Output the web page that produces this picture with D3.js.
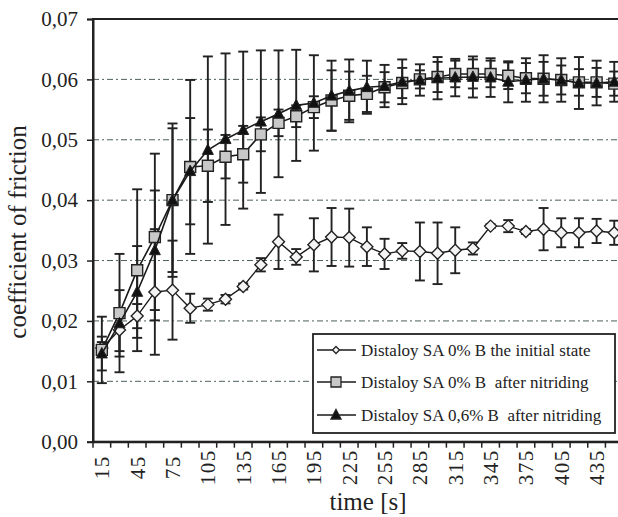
<!DOCTYPE html>
<html>
<head>
<meta charset="utf-8">
<script src="https://cdn.jsdelivr.net/npm/d3@7"></script>
<style>
  body { margin: 0; background: #fff; }
  svg { display: block; }
  svg text { font-family: "Liberation Serif", "Times New Roman", serif !important; }
</style>
</head>
<body>
<div id="chart"></div>
<script>
'use strict'

// time axis categories (s)
const times = [15, 30, 45, 60, 75, 90, 105, 120, 135, 150, 165, 180, 195, 210, 225,
    240, 255, 270, 285, 300, 315, 330, 345, 360, 375, 390, 405, 420, 435, 450]

// Distaloy SA 0% B the initial state
const initialMean = [0.0155, 0.0185, 0.0208, 0.0248, 0.0251, 0.0221, 0.0227, 0.0236, 0.0257, 0.0293,
    0.0331, 0.0306, 0.0326, 0.0339, 0.0338, 0.0323, 0.0311, 0.0316, 0.0315, 0.0312,
    0.0317, 0.0320, 0.0357, 0.0357, 0.0348, 0.0352, 0.0346, 0.0346, 0.0349, 0.0346]
const initialErr = [0.0010, 0.0035, 0.0020, 0.0104, 0.0082, 0.0024, 0.0010, 0.0007, 0.0005, 0.0011,
    0.0045, 0.0013, 0.0044, 0.0048, 0.0048, 0.0032, 0.0025, 0.0013, 0.0048, 0.0051,
    0.0038, 0.0010, 0.0003, 0.0010, 0.0004, 0.0035, 0.0024, 0.0024, 0.0020, 0.0020]

// Distaloy SA 0% B after nitriding
const nitrMean = [0.0152, 0.0213, 0.0284, 0.0339, 0.0400, 0.0455, 0.0457, 0.0472, 0.0476, 0.0509,
    0.0528, 0.0539, 0.0554, 0.0565, 0.0573, 0.0576, 0.0587, 0.0594, 0.0600, 0.0604,
    0.0609, 0.0609, 0.0609, 0.0606, 0.0602, 0.0601, 0.0599, 0.0595, 0.0595, 0.0593]
const nitrErr = [0.0055, 0.0098, 0.0134, 0.0138, 0.0127, 0.0144, 0.0060, 0.0036, 0.0047, 0.0028,
    0.0022, 0.0018, 0.0018, 0.0050, 0.0040, 0.0030, 0.0025, 0.0025, 0.0015, 0.0025,
    0.0022, 0.0024, 0.0022, 0.0022, 0.0025, 0.0028, 0.0024, 0.0022, 0.0024, 0.0020]

// Distaloy SA 0,6% B after nitriding
const boronMean = [0.0146, 0.0196, 0.0248, 0.0317, 0.0400, 0.0448, 0.0483, 0.0501, 0.0516, 0.0530,
    0.0543, 0.0557, 0.0561, 0.0573, 0.0581, 0.0587, 0.0589, 0.0596, 0.0599, 0.0602,
    0.0603, 0.0604, 0.0603, 0.0596, 0.0599, 0.0601, 0.0599, 0.0594, 0.0594, 0.0596]
const boronErr = [0.0028, 0.0055, 0.0076, 0.0099, 0.0119, 0.0088, 0.0155, 0.0142, 0.0130, 0.0118,
    0.0105, 0.0092, 0.0079, 0.0058, 0.0052, 0.0044, 0.0035, 0.0037, 0.0026, 0.0035,
    0.0031, 0.0034, 0.0032, 0.0034, 0.0036, 0.0039, 0.0036, 0.0043, 0.0037, 0.0033]

const yTicks = [0, 0.01, 0.02, 0.03, 0.04, 0.05, 0.06, 0.07]
const legendLabels = ['Distaloy SA 0% B the initial state',
    'Distaloy SA 0% B  after nitriding',
    'Distaloy SA 0,6% B  after nitriding']

////////////////////////////////////
//////////// svg setup /////////////
////////////////////////////////////

const svgWidth = 618
const svgHeight = 517
const plot = { left: 93, top: 19, bottom: 441.7, step: 17.67 }
const plotRight = plot.left + times.length * plot.step

const svg = d3.select('#chart')
    .append('svg')
    .attr('width', svgWidth)
    .attr('height', svgHeight)

const x = d3.scaleBand()
    .domain(times)
    .range([plot.left, plotRight])
    .padding(0)

const y = d3.scaleLinear()
    .domain([0, 0.07])
    .range([plot.bottom, plot.top])

const cx = t => x(t) + x.bandwidth() / 2
const comma = d3.formatLocale({ decimal: ',', thousands: '.', grouping: [3], currency: ['', ''] }).format('.2f')

////////////////////////////////////
/////////////// grid ///////////////
////////////////////////////////////

svg.append('g')
    .selectAll('line')
    .data(yTicks.filter(d => d > 0 && d < 0.07))
    .join('line')
    .attr('x1', plot.left)
    .attr('x2', plotRight)
    .attr('y1', d => y(d))
    .attr('y2', d => y(d))
    .attr('stroke', '#4d5f5f')
    .attr('stroke-width', 1)
    .attr('stroke-dasharray', '6,3,2,3')

// plot frame
svg.append('rect')
    .attr('x', plot.left)
    .attr('y', plot.top)
    .attr('width', plotRight - plot.left)
    .attr('height', plot.bottom - plot.top)
    .attr('fill', 'none')
    .attr('stroke', '#222')
    .attr('stroke-width', 2)

////////////////////////////////////
/////////////// axes ///////////////
////////////////////////////////////

const yAxis = svg.append('g')
    .attr('transform', `translate(${plot.left},0)`)
    .call(d3.axisLeft(y).tickValues(yTicks).tickFormat(comma).tickSize(6).tickPadding(9))
yAxis.select('.domain').attr('stroke', '#222').attr('stroke-width', 2)
yAxis.selectAll('.tick line').attr('stroke', '#222').attr('stroke-width', 1.5)
yAxis.selectAll('text')
    .attr('font-size', 21)
    .attr('fill', '#222')

const xAxis = svg.append('g')
    .attr('transform', `translate(0,${plot.bottom})`)
    .call(d3.axisBottom(x).tickValues(times.filter((d, i) => i % 2 === 0)).tickSize(0))
xAxis.select('.domain').attr('stroke', '#222').attr('stroke-width', 2)
xAxis.selectAll('text')
    .attr('transform', 'rotate(-90)')
    .attr('x', -25.5)
    .attr('y', 0)
    .attr('dy', '0.35em')
    .attr('text-anchor', 'middle')
    .attr('font-size', 21)
    .attr('letter-spacing', 1.5)
    .attr('fill', '#222')

// category boundary ticks
svg.append('g')
    .selectAll('line')
    .data(d3.range(times.length + 1))
    .join('line')
    .attr('x1', i => plot.left + i * x.step())
    .attr('x2', i => plot.left + i * x.step())
    .attr('y1', plot.bottom)
    .attr('y2', plot.bottom + 6)
    .attr('stroke', '#222')
    .attr('stroke-width', 1.5)

// axis titles
svg.append('text')
    .attr('transform', `translate(26,${232}) rotate(-90)`)
    .attr('text-anchor', 'middle')
    .attr('font-size', 25)
    .attr('fill', '#222')
    .text('coefficient of friction')

svg.append('text')
    .attr('x', 368)
    .attr('y', 510)
    .attr('text-anchor', 'middle')
    .attr('font-size', 25)
    .attr('fill', '#222')
    .text('time [s]')

////////////////////////////////////
////////////// series //////////////
////////////////////////////////////

const series = [
    { mean: initialMean, err: initialErr, shape: 'diamond', fill: '#f4f4f4', lw: 1.4 },
    { mean: nitrMean, err: nitrErr, shape: 'square', fill: '#c8c8c8', lw: 1.6 },
    { mean: boronMean, err: boronErr, shape: 'triangle', fill: '#111', lw: 1.6 }
]

const symbolPath = (shape, s) => {
    if (shape === 'diamond') return `M0,${-s}L${s},0L0,${s}L${-s},0Z`
    if (shape === 'square') return `M${-s},${-s}H${s}V${s}H${-s}Z`
    return `M0,${-s * 1.1}L${s},${s * 0.8}L${-s},${s * 0.8}Z`
}

// error bars
series.forEach(s => {
    const g = svg.append('g').attr('stroke', '#222').attr('stroke-width', 1.9)
    times.forEach((t, i) => {
        const top = y(s.mean[i] + s.err[i])
        const bot = y(s.mean[i] - s.err[i])
        g.append('line').attr('x1', cx(t)).attr('x2', cx(t)).attr('y1', top).attr('y2', bot)
        g.append('line').attr('x1', cx(t) - 5).attr('x2', cx(t) + 5).attr('y1', top).attr('y2', top)
        g.append('line').attr('x1', cx(t) - 5).attr('x2', cx(t) + 5).attr('y1', bot).attr('y2', bot)
    })
})

// lines and markers
const line = d3.line().x((d, i) => cx(times[i])).y(d => y(d))

series.forEach(s => {
    svg.append('path')
        .datum(s.mean)
        .attr('d', line)
        .attr('fill', 'none')
        .attr('stroke', '#1a1a1a')
        .attr('stroke-width', s.lw)

    svg.append('g')
        .selectAll('path')
        .data(s.mean)
        .join('path')
        .attr('transform', (d, i) => `translate(${cx(times[i])},${y(d)})`)
        .attr('d', symbolPath(s.shape, s.shape === 'diamond' ? 6 : 5.5))
        .attr('fill', s.fill)
        .attr('stroke', '#222')
        .attr('stroke-width', s.shape === 'triangle' ? 1 : 1.4)
})

////////////////////////////////////
////////////// legend //////////////
////////////////////////////////////

const legend = svg.append('g')
legend.append('rect')
    .attr('x', 313)
    .attr('y', 334)
    .attr('width', 302)
    .attr('height', 99)
    .attr('fill', '#fff')
    .attr('stroke', '#222')
    .attr('stroke-width', 1.8)

const rowY = [350, 382, 415]
series.forEach((s, i) => {
    legend.append('line')
        .attr('x1', 317).attr('x2', 356)
        .attr('y1', rowY[i]).attr('y2', rowY[i])
        .attr('stroke', '#1a1a1a').attr('stroke-width', 1.6)
    legend.append('path')
        .attr('transform', `translate(336,${rowY[i]})`)
        .attr('d', symbolPath(s.shape, s.shape === 'diamond' ? 3.5 : 5))
        .attr('fill', s.fill)
        .attr('stroke', '#222')
        .attr('stroke-width', 1.3)
    legend.append('text')
        .attr('x', 361)
        .attr('y', rowY[i])
        .attr('dy', '0.35em')
        .attr('font-size', 17)
        .attr('fill', '#222')
        .style('white-space', 'pre')
        .text(legendLabels[i])
})
</script>
</body>
</html>
